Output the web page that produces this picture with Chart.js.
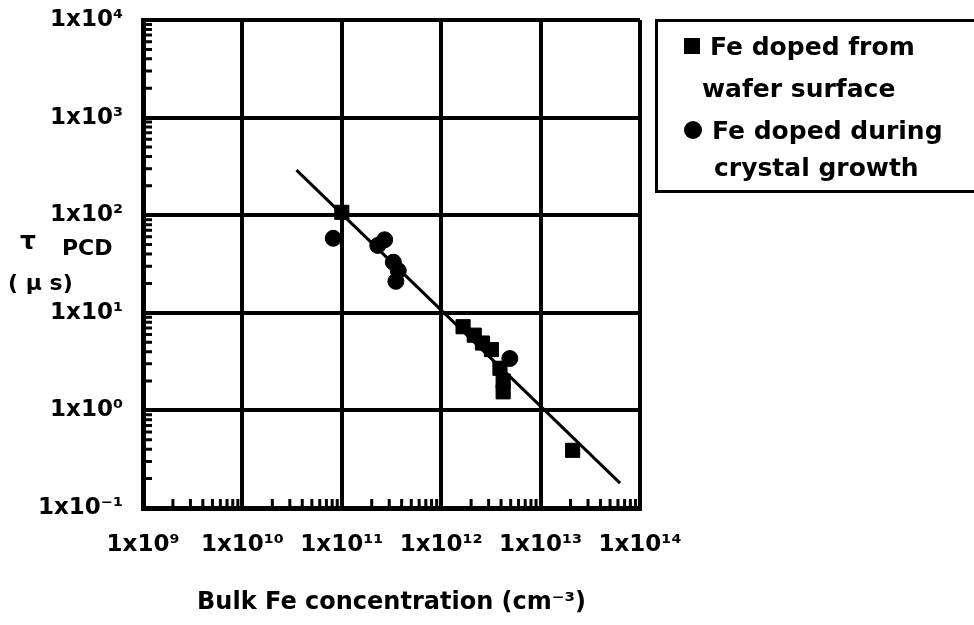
<!DOCTYPE html>
<html>
<head>
<meta charset="utf-8">
<script src="https://cdn.jsdelivr.net/npm/chart.js@4.4.1/dist/chart.umd.min.js"></script>
<style>
  body { margin: 0; background: #fff; }
  #wrap { position: relative; width: 974px; height: 625px; font-family: "DejaVu Sans", sans-serif; font-weight: bold; color: #000; }
  .ytitle { position: absolute; font-size: 22px; white-space: nowrap; }
  #legend { position: absolute; left: 655px; top: 19px; width: 340px; height: 174px; border: 3px solid #000; box-sizing: border-box; font-size: 25px; }
  #legend .line { position: absolute; white-space: nowrap; }
  #legend .mk { display: inline-block; background: #000; vertical-align: middle; margin-right: 10px; position: relative; top: -2px; }
</style>
</head>
<body>
<div id="wrap">
  <canvas id="chart" width="974" height="625"></canvas>
  <div class="ytitle" style="left:20px; top:226px; font-size:25px;">τ</div>
  <div class="ytitle" style="left:62px; top:235px;">PCD</div>
  <div class="ytitle" style="left:8px; top:270px;">( μ s)</div>
  <div id="legend"></div>
</div>
<script>
// axis range / tick labels
const xTicks = [1e9, 1e10, 1e11, 1e12, 1e13, 1e14];
const yTicks = [1e-1, 1e0, 1e1, 1e2, 1e3, 1e4];

// Fe doped from wafer surface (squares)
const surfaceX = [1.0e11, 1.66e12, 2.15e12, 2.6e12, 3.2e12, 3.9e12, 4.2e12, 4.2e12, 2.1e13];
const surfaceY = [107, 7.2, 5.9, 4.9, 4.2, 2.7, 2.0, 1.55, 0.39];

// Fe doped during crystal growth (circles)
const growthX = [8.2e10, 2.3e11, 2.7e11, 3.3e11, 3.7e11, 3.5e11, 4.9e12];
const growthY = [58, 49, 56, 33, 27, 21, 3.4];

// fitted line end points
const fitX = [3.5e10, 6.3e13];
const fitY = [290, 0.18];

const legendLabels = ['Fe doped from\nwafer surface', 'Fe doped during\ncrystal growth'];

const sup = {'0':'⁰','1':'¹','2':'²','3':'³','4':'⁴','5':'⁵','6':'⁶','7':'⁷','8':'⁸','9':'⁹','-':'⁻'};
function powLabel(v) {
    const e = Math.round(Math.log10(v));
    return '1x10' + String(e).split('').map(c => sup[c]).join('');
}
function toPts(xs, ys) { return xs.map((x, i) => ({x: x, y: ys[i]})); }

const font = {family: 'DejaVu Sans', weight: 'bold', size: 23};

// short minor ticks inside the frame (2..9 of each decade)
const minorTicks = {
    id: 'minorTicks',
    afterDatasetsDraw(chart) {
        const ctx = chart.ctx, a = chart.chartArea;
        const xs = chart.scales.x, ys = chart.scales.y;
        ctx.save();
        ctx.strokeStyle = '#000';
        ctx.lineWidth = 3;
        ctx.beginPath();
        for (let d = 9; d < 14; d++) {
            for (let m = 2; m <= 9; m++) {
                const px = xs.getPixelForValue(m * Math.pow(10, d));
                ctx.moveTo(px, a.bottom);
                ctx.lineTo(px, a.bottom - 9);
            }
        }
        for (let d = -1; d < 4; d++) {
            for (let m = 2; m <= 9; m++) {
                const py = ys.getPixelForValue(m * Math.pow(10, d));
                ctx.moveTo(a.left, py);
                ctx.lineTo(a.left + 9, py);
            }
        }
        ctx.stroke();
        ctx.restore();
    }
};

new Chart(document.getElementById('chart'), {
    type: 'scatter',
    data: {
        datasets: [
            {
                label: legendLabels[0],
                data: toPts(surfaceX, surfaceY),
                pointStyle: 'rect',
                pointRadius: 10,
                backgroundColor: '#000',
                borderColor: '#000'
            },
            {
                label: legendLabels[1],
                data: toPts(growthX, growthY),
                pointStyle: 'circle',
                pointRadius: 8,
                backgroundColor: '#000',
                borderColor: '#000'
            },
            {
                type: 'line',
                label: 'fit',
                data: toPts(fitX, fitY),
                borderColor: '#000',
                borderWidth: 3,
                pointRadius: 0,
                fill: false
            }
        ]
    },
    options: {
        responsive: false,
        animation: false,
        layout: { padding: { top: 20, right: 334, left: 0, bottom: 0 } },
        plugins: {
            legend: { display: false },
            tooltip: { enabled: false }
        },
        scales: {
            x: {
                type: 'logarithmic',
                min: 1e9,
                max: 1e14,
                afterBuildTicks: s => { s.ticks = xTicks.map(v => ({value: v})); },
                afterFit: s => { s.height = 117; },
                grid: { color: '#000', lineWidth: 4, drawTicks: false },
                border: { color: '#000', width: 5 },
                ticks: { color: '#000', font: font, padding: 23, maxRotation: 0, autoSkip: false, callback: v => powLabel(v) },
                title: { display: true, text: 'Bulk Fe concentration (cm⁻³)', color: '#000', font: {family: 'DejaVu Sans', weight: 'bold', size: 24}, padding: { top: 5, bottom: 8 } }
            },
            y: {
                type: 'logarithmic',
                min: 1e-1,
                max: 1e4,
                afterBuildTicks: s => { s.ticks = yTicks.map(v => ({value: v})); },
                afterFit: s => { s.width = 143; s.paddingTop = 0; s.paddingBottom = 0; },
                grid: { color: '#000', lineWidth: 4, drawTicks: false },
                border: { color: '#000', width: 5 },
                ticks: { color: '#000', font: font, padding: 20, autoSkip: false, callback: v => powLabel(v) }
            }
        }
    },
    plugins: [minorTicks]
});

// html legend built from the dataset labels
const leg = document.getElementById('legend');
const rows = [
    {top: 10, left: 26, text: legendLabels[0].split('\n')[0], mk: 'sq'},
    {top: 52, left: 44, text: legendLabels[0].split('\n')[1]},
    {top: 94, left: 26, text: legendLabels[1].split('\n')[0], mk: 'ci'},
    {top: 131, left: 56, text: legendLabels[1].split('\n')[1]}
];
rows.forEach(r => {
    const d = document.createElement('div');
    d.className = 'line';
    d.style.top = r.top + 'px';
    d.style.left = r.left + 'px';
    if (r.mk) {
        const m = document.createElement('span');
        m.className = 'mk';
        m.style.width = m.style.height = (r.mk === 'sq' ? 16 : 18) + 'px';
        if (r.mk === 'ci') m.style.borderRadius = '50%';
        d.appendChild(m);
    }
    d.appendChild(document.createTextNode(r.text));
    leg.appendChild(d);
});
</script>
</body>
</html>
